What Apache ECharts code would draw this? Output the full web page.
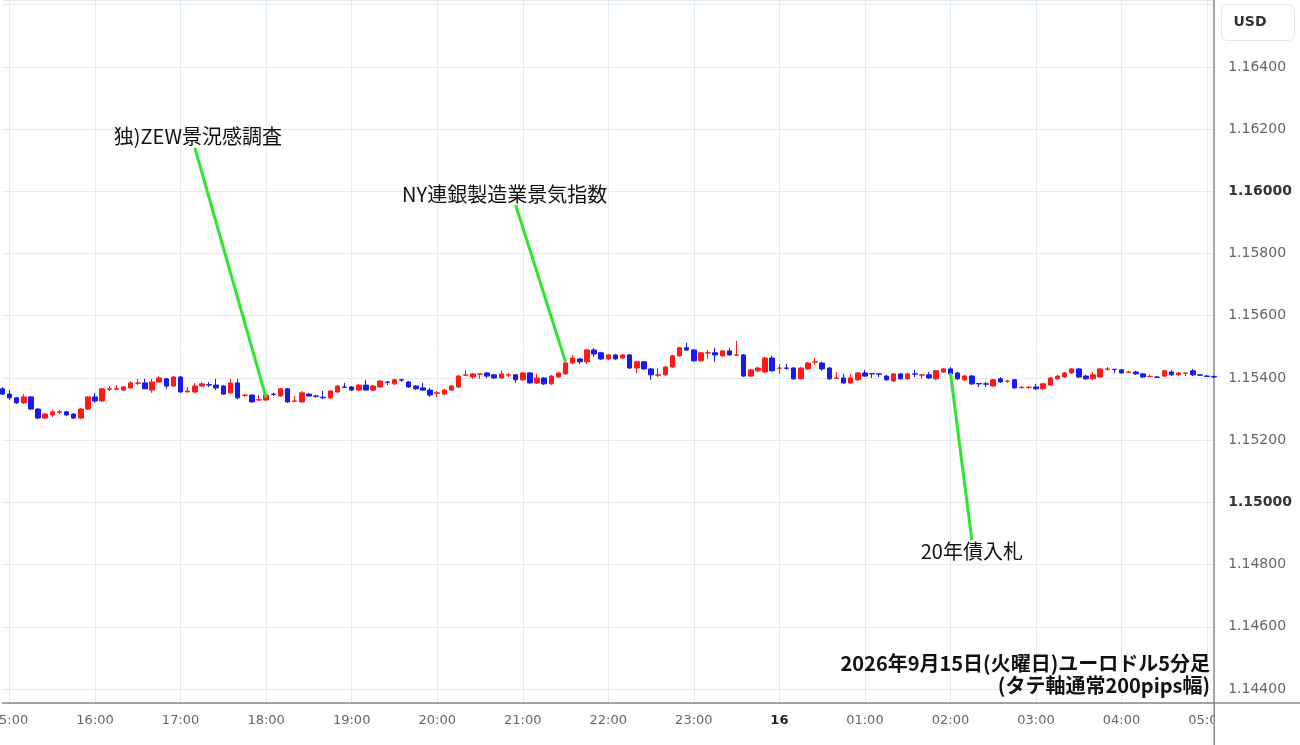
<!DOCTYPE html>
<html><head><meta charset="utf-8">
<script src="https://cdn.jsdelivr.net/npm/echarts@6/dist/echarts.min.js"></script>
<style>html,body{margin:0;padding:0;background:#fff;overflow:hidden}#c{width:1300px;height:745px}</style>
</head><body><div id="c"></div>
<script>
// EUR/USD 5-minute candles, 2026-09-15 14:55 -> 2026-09-16 05:05
const opens = [
1.15365,1.15348,1.15336,1.15320,1.15339,1.15300,1.15271,1.15281,1.15290,1.15291,1.15284,1.15271,
1.15300,1.15339,1.15326,1.15364,1.15364,1.15361,1.15368,1.15383,1.15384,1.15361,1.15387,1.15397,
1.15374,1.15403,1.15355,1.15355,1.15374,1.15378,1.15377,1.15374,1.15352,1.15384,1.15344,1.15345,
1.15329,1.15329,1.15348,1.15342,1.15365,1.15325,1.15323,1.15348,1.15342,1.15338,1.15336,1.15355,
1.15371,1.15371,1.15361,1.15377,1.15361,1.15371,1.15387,1.15381,1.15394,1.15387,1.15374,1.15368,
1.15361,1.15351,1.15348,1.15361,1.15371,1.15409,1.15403,1.15412,1.15416,1.15410,1.15400,1.15409,
1.15410,1.15394,1.15416,1.15384,1.15400,1.15381,1.15403,1.15413,1.15448,1.15461,1.15452,1.15490,
1.15481,1.15461,1.15474,1.15464,1.15474,1.15432,1.15452,1.15429,1.15409,1.15410,1.15435,1.15471,
1.15497,1.15490,1.15455,1.15480,1.15481,1.15471,1.15487,1.15473,1.15474,1.15406,1.15423,1.15419,
1.15464,1.15431,1.15432,1.15432,1.15397,1.15429,1.15451,1.15448,1.15432,1.15399,1.15400,1.15384,
1.15394,1.15416,1.15414,1.15413,1.15406,1.15390,1.15413,1.15397,1.15413,1.15409,1.15410,1.15397,
1.15419,1.15429,1.15416,1.15394,1.15406,1.15382,1.15381,1.15374,1.15397,1.15389,1.15394,1.15369,
1.15369,1.15371,1.15365,1.15377,1.15397,1.15403,1.15416,1.15429,1.15406,1.15397,1.15403,1.15428,
1.15428,1.15426,1.15418,1.15419,1.15413,1.15404,1.15403,1.15406,1.15419,1.15410,1.15415,1.15423,
1.15410,1.15406,1.15405
];
const closes = [
1.15348,1.15336,1.15320,1.15339,1.15300,1.15271,1.15284,1.15291,1.15291,1.15281,1.15271,1.15300,
1.15339,1.15326,1.15365,1.15365,1.15365,1.15371,1.15384,1.15384,1.15365,1.15387,1.15400,1.15374,
1.15403,1.15355,1.15358,1.15374,1.15381,1.15377,1.15368,1.15348,1.15384,1.15336,1.15345,1.15323,
1.15330,1.15345,1.15347,1.15365,1.15323,1.15326,1.15352,1.15342,1.15341,1.15336,1.15358,1.15374,
1.15370,1.15361,1.15377,1.15361,1.15374,1.15390,1.15386,1.15394,1.15393,1.15371,1.15365,1.15361,
1.15345,1.15352,1.15361,1.15374,1.15406,1.15410,1.15413,1.15413,1.15406,1.15400,1.15413,1.15410,
1.15394,1.15416,1.15384,1.15400,1.15381,1.15406,1.15416,1.15448,1.15464,1.15452,1.15490,1.15477,
1.15461,1.15474,1.15461,1.15474,1.15432,1.15452,1.15429,1.15410,1.15410,1.15435,1.15471,1.15497,
1.15490,1.15455,1.15481,1.15481,1.15474,1.15487,1.15474,1.15474,1.15406,1.15426,1.15432,1.15464,
1.15423,1.15432,1.15431,1.15397,1.15432,1.15448,1.15452,1.15429,1.15397,1.15400,1.15384,1.15400,
1.15416,1.15406,1.15413,1.15412,1.15394,1.15413,1.15397,1.15413,1.15412,1.15410,1.15400,1.15423,
1.15429,1.15413,1.15397,1.15406,1.15381,1.15381,1.15380,1.15394,1.15387,1.15390,1.15368,1.15370,
1.15370,1.15365,1.15381,1.15400,1.15406,1.15416,1.15429,1.15403,1.15397,1.15410,1.15429,1.15429,
1.15427,1.15416,1.15419,1.15413,1.15403,1.15405,1.15402,1.15423,1.15410,1.15416,1.15416,1.15410,
1.15409,1.15405,1.15403
];
const lows = [
1.15345,1.15329,1.15316,1.15316,1.15297,1.15268,1.15268,1.15274,1.15284,1.15278,1.15268,1.15268,
1.15297,1.15320,1.15323,1.15358,1.15361,1.15358,1.15365,1.15377,1.15364,1.15352,1.15384,1.15365,
1.15371,1.15352,1.15354,1.15352,1.15371,1.15371,1.15361,1.15345,1.15348,1.15332,1.15339,1.15320,
1.15326,1.15326,1.15342,1.15339,1.15320,1.15323,1.15320,1.15339,1.15336,1.15332,1.15332,1.15352,
1.15368,1.15358,1.15358,1.15360,1.15358,1.15368,1.15377,1.15377,1.15387,1.15368,1.15361,1.15358,
1.15339,1.15339,1.15345,1.15358,1.15368,1.15406,1.15397,1.15397,1.15400,1.15397,1.15397,1.15403,
1.15384,1.15390,1.15381,1.15381,1.15377,1.15377,1.15400,1.15410,1.15445,1.15445,1.15445,1.15468,
1.15458,1.15458,1.15458,1.15461,1.15429,1.15416,1.15426,1.15394,1.15403,1.15406,1.15432,1.15468,
1.15487,1.15452,1.15452,1.15461,1.15452,1.15468,1.15471,1.15471,1.15403,1.15403,1.15419,1.15416,
1.15419,1.15413,1.15426,1.15394,1.15394,1.15426,1.15442,1.15423,1.15394,1.15397,1.15381,1.15381,
1.15390,1.15403,1.15400,1.15403,1.15390,1.15387,1.15394,1.15394,1.15403,1.15397,1.15397,1.15394,
1.15416,1.15410,1.15394,1.15390,1.15377,1.15371,1.15371,1.15371,1.15384,1.15384,1.15365,1.15365,
1.15365,1.15361,1.15361,1.15374,1.15394,1.15400,1.15413,1.15400,1.15394,1.15394,1.15400,1.15423,
1.15416,1.15413,1.15416,1.15410,1.15400,1.15403,1.15400,1.15403,1.15406,1.15406,1.15406,1.15406,
1.15406,1.15403,1.15400
];
const highs = [
1.15371,1.15361,1.15339,1.15348,1.15342,1.15303,1.15287,1.15297,1.15297,1.15294,1.15287,1.15303,
1.15342,1.15352,1.15368,1.15374,1.15377,1.15374,1.15390,1.15397,1.15397,1.15397,1.15406,1.15400,
1.15406,1.15406,1.15371,1.15384,1.15387,1.15387,1.15397,1.15377,1.15397,1.15397,1.15348,1.15348,
1.15345,1.15348,1.15352,1.15368,1.15368,1.15342,1.15358,1.15352,1.15345,1.15358,1.15361,1.15377,
1.15384,1.15374,1.15381,1.15394,1.15377,1.15394,1.15390,1.15397,1.15397,1.15390,1.15377,1.15384,
1.15368,1.15358,1.15365,1.15377,1.15410,1.15426,1.15416,1.15414,1.15419,1.15413,1.15423,1.15416,
1.15413,1.15419,1.15419,1.15413,1.15403,1.15410,1.15419,1.15452,1.15474,1.15464,1.15493,1.15497,
1.15484,1.15477,1.15477,1.15477,1.15477,1.15455,1.15455,1.15432,1.15432,1.15439,1.15474,1.15500,
1.15513,1.15493,1.15484,1.15490,1.15497,1.15490,1.15497,1.15519,1.15477,1.15429,1.15435,1.15468,
1.15471,1.15445,1.15445,1.15435,1.15435,1.15452,1.15464,1.15452,1.15435,1.15419,1.15413,1.15413,
1.15419,1.15426,1.15414,1.15416,1.15410,1.15416,1.15416,1.15416,1.15426,1.15410,1.15419,1.15426,
1.15432,1.15435,1.15419,1.15410,1.15410,1.15382,1.15387,1.15397,1.15403,1.15394,1.15397,1.15374,
1.15374,1.15381,1.15384,1.15403,1.15410,1.15419,1.15432,1.15432,1.15410,1.15419,1.15432,1.15435,
1.15428,1.15429,1.15423,1.15423,1.15416,1.15410,1.15406,1.15426,1.15426,1.15419,1.15416,1.15429,
1.15413,1.15410,1.15406
];
const startMinute = 14 * 60 + 55;   // first candle 14:55
const stepMinutes = 5;
const dayLabel = '16';
const boldTicks = ['1.15000', '1.16000'];
const annotations = [
  { text: '独)ZEW景況感調査', from: ['17:10', 1.16140], to: ['18:00', 1.15336], pos: 'top', offset: [3, 0] },
  { text: 'NY連銀製造業景気指数', from: ['20:55', 1.15956], to: ['21:30', 1.15452], pos: 'top', offset: [-11, 0] },
  { text: '20年債入札', from: ['02:15', 1.14879], to: ['02:00', 1.15416], pos: 'bottom', offset: [0, 0] }
];
const titleLines = ['2026年9月15日(火曜日)ユーロドル5分足', '(タテ軸通常200pips幅)'];

const categories = [];
for (let k = 0; k < opens.length; k++) {
  const t = (startMinute + stepMinutes * k) % 1440;
  categories.push(String(Math.floor(t / 60)).padStart(2, '0') + ':' + String(t % 60).padStart(2, '0'));
}
const candles = opens.map((o, i) => [o, closes[i], lows[i], highs[i]]);

const UP = '#ff1a1a', DOWN = '#1a1aee';
const isHour = (i, v) => v.slice(3) === '00';
const CJK = '"Noto Sans CJK JP", "Noto Sans", sans-serif';

const chart = echarts.init(document.getElementById('c'), null, { renderer: 'canvas' });
chart.setOption({
  animation: false,
  backgroundColor: '#ffffff',
  grid: { left: 2.4, right: 85.8, top: 0, bottom: 42, containLabel: false, outerBoundsMode: 'none' },
  xAxis: {
    type: 'category',
    data: categories,
    boundaryGap: false,
    axisLine: { show: true, lineStyle: { color: '#888', width: 1.5 } },
    axisTick: { show: false, interval: isHour },
    axisLabel: {
      interval: isHour, margin: 11, color: '#666', fontSize: 13, fontFamily: '"DejaVu Sans", sans-serif',
      hideOverlap: false,
      formatter: v => v === '00:00' ? '{d|' + dayLabel + '}' : v,
      rich: { d: { fontWeight: 'bold', color: '#222', fontSize: 13, fontFamily: '"DejaVu Sans", sans-serif' } }
    },
    splitLine: { show: true, interval: isHour, lineStyle: { color: '#e3eaf0', width: 1 } }
  },
  yAxis: {
    type: 'value',
    position: 'right',
    min: 1.14355, max: 1.16615,
    splitNumber: 11,
    scale: true,
    axisLine: { show: true, lineStyle: { color: '#888', width: 1.5 } },
    axisTick: { show: false },
    axisLabel: {
      margin: 14, color: '#666', fontSize: 14, fontFamily: '"DejaVu Sans", sans-serif',
      showMinLabel: false, showMaxLabel: false,
      formatter: v => {
        if (v > 1.1645 || v < 1.1435) return '';
        const s = v.toFixed(5);
        return boldTicks.includes(s) ? '{b|' + s + '}' : s;
      },
      rich: { b: { fontWeight: 'bold', color: '#333', fontSize: 14, fontFamily: '"DejaVu Sans", sans-serif' } }
    },
    splitLine: { show: true, lineStyle: { color: '#e3eaf0', width: 1 } }
  },
  series: [{
    type: 'candlestick',
    data: candles,
    barWidth: 5,
    clip: false,
    itemStyle: { color: UP, color0: DOWN, borderColor: UP, borderColor0: DOWN, borderWidth: 1 },
    markLine: {
      silent: true, animation: false,
      symbol: ['none', 'none'],
      label: { show: false },
      lineStyle: { color: '#2ee62e', width: 3, type: 'solid' },
      emphasis: { disabled: true },
      data: annotations.map(a => [{ coord: a.from }, { coord: a.to }])
    },
    markPoint: {
      silent: true, animation: false,
      symbol: 'circle', symbolSize: 0,
      itemStyle: { color: 'transparent' },
      data: annotations.map(a => ({
        coord: a.from,
        label: { show: true, position: a.pos, distance: 1, offset: a.offset, formatter: a.text,
                 color: '#111', fontSize: 20, fontFamily: CJK }
      }))
    }
  }],
  graphic: [
    { type: 'rect', shape: { x: 1215, y: 704.5, width: 85, height: 41 }, style: { fill: '#fff' }, z: 100 },
    { type: 'line', shape: { x1: 1214, y1: 703, x2: 1300, y2: 703 }, style: { stroke: '#888', lineWidth: 1.5 }, z: 101 },
    { type: 'line', shape: { x1: 1214.2, y1: 703, x2: 1214.2, y2: 745 }, style: { stroke: '#888', lineWidth: 1.5 }, z: 101 },
    { type: 'rect', shape: { x: 1221.5, y: 4.5, width: 73, height: 36, r: 6 }, style: { fill: '#fff', stroke: '#e6e6e6', lineWidth: 1 }, z: 101 },
    { type: 'text', style: { x: 1250, y: 22.5, text: 'USD', fill: '#333', font: 'bold 14px "DejaVu Sans", sans-serif', textAlign: 'center', textVerticalAlign: 'middle' }, z: 102 },
    { type: 'text', z: 102, style: { x: 1210, y: 652, text: titleLines.join('\n'), fill: '#111',
        font: 'bold 20px "Noto Sans CJK JP", sans-serif', lineHeight: 22, textAlign: 'right', textVerticalAlign: 'top' } }
  ]
});
</script></body></html>
